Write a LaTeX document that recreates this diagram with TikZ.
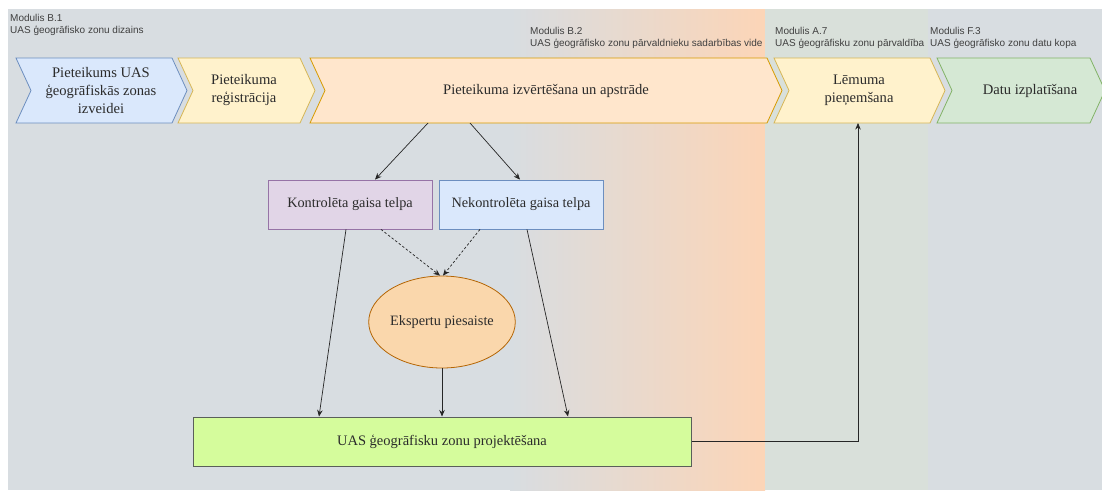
\documentclass[tikz,border=0pt]{standalone}
\usepackage{fontspec}
\setmainfont{Liberation Serif}
\newfontfamily\labfont{Liberation Sans}
\usetikzlibrary{arrows.meta,shapes.geometric,calc}
\definecolor{bggray}{HTML}{D8DDE1}
\definecolor{bggreen}{HTML}{D9E0DA}
\definecolor{peach}{HTML}{FCD5B7}
\definecolor{blueF}{HTML}{DAE8FC}\definecolor{blueD}{HTML}{6C8EBF}
\definecolor{yelF}{HTML}{FFF2CC}\definecolor{yelD}{HTML}{D6B656}
\definecolor{orF}{HTML}{FFE6CC}\definecolor{orD}{HTML}{D79B00}
\definecolor{grF}{HTML}{D5E8D4}\definecolor{grD}{HTML}{82B366}
\definecolor{purF}{HTML}{E1D5E7}\definecolor{purD}{HTML}{9673A6}
\definecolor{ellF}{HTML}{FAD7AC}\definecolor{ellD}{HTML}{B46504}
\definecolor{limeF}{HTML}{D5FC9C}\definecolor{limeD}{HTML}{5A5F5A}
\definecolor{txt}{HTML}{2B2B2B}
\tikzset{
  lanelabel/.style={anchor=north west,align=left,inner sep=0pt,font=\labfont\fontsize{10}{12.5}\selectfont,text=txt!90},
  chevtext/.style={align=center,inner sep=0pt,font=\fontsize{14.6}{18}\selectfont,text=txt},
  boxnode/.style={draw,line width=0.8pt,minimum width=164pt,minimum height=49pt,inner sep=0pt,font=\fontsize{14.3}{17}\selectfont,text=txt},
  conn/.style={line width=0.7pt,draw=black!85,-{Stealth[length=6.5pt,width=5.5pt]}},
  dconn/.style={conn,dashed,dash pattern=on 2.5pt off 2pt},
}
\newcommand{\chev}[4]{% L, R, fill, draw
  \filldraw[fill=#3,draw=#4,line width=0.8pt] (#1,58) -- (#2,58) -- ({#2+15},90.5) -- (#2,123) -- (#1,123) -- ({#1+15},90.5) -- cycle;}
\begin{document}
\begin{tikzpicture}[x=1pt,y=-1pt]
\useasboundingbox (0,0) rectangle (1102,491);
% lanes
\fill[bggray] (8,9) rectangle (1102,490);
\begin{scope}
\clip (510,9) rectangle (765,490);
\shade[left color=bggray,right color=peach,shading angle=90] (510,9) rectangle (765,490);
\end{scope}
\fill[bggreen] (765,9) rectangle (928,490);
% lane labels
\node[lanelabel] (mB1) at (10,14) {Modulis B.1\\UAS ģeogrāfisko zonu dizains};
\node[lanelabel] (mB2) at (530,27) {Modulis B.2\\UAS ģeogrāfisko zonu pārvaldnieku sadarbības vide};
\node[lanelabel] (mA7) at (775,27) {Modulis A.7\\UAS ģeogrāfisku zonu pārvaldība};
\node[lanelabel] (mF3) at (930,27) {Modulis F.3\\UAS ģeogrāfisko zonu datu kopa};
% chevrons
\chev{16}{172}{blueF}{blueD}
\chev{178}{300}{yelF}{yelD}
\chev{310}{767}{orF}{orD}
\chev{774}{930}{yelF}{yelD}
\chev{937}{1090}{grF}{grD}
\node[chevtext] (p1) at (101,90.5) {Pieteikums UAS\\ģeogrāfiskās zonas\\izveidei};
\node[chevtext] (p2) at (244,90.5) {Pieteikuma\\reģistrācija};
\node[chevtext] (p3) at (546,90.5) {Pieteikuma izvērtēšana un apstrāde};
\node[chevtext] (p4) at (859,90.5) {Lēmuma\\pieņemšana};
\node[chevtext] (p5) at (1030,90.5) {Datu izplatīšana};
\coordinate (p3a) at (428,123);
\coordinate (p3b) at (470,123);
\coordinate (p4b) at (858,123);
% boxes
\node[boxnode,fill=purF,draw=purD] (K) at (350,204.5) {Kontrolēta gaisa telpa};
\node[boxnode,fill=blueF,draw=blueD] (N) at (521,204.5) {Nekontrolēta gaisa telpa};
\node[ellipse,draw=ellD,fill=ellF,line width=0.8pt,minimum width=118pt,minimum height=92pt,inner sep=0pt,font=\fontsize{14.3}{17}\selectfont,text=txt] (E) at (442,322) {Ekspertu piesaiste};
\node[draw=limeD,fill=limeF,line width=1pt,minimum width=498pt,minimum height=49pt,inner sep=0pt,font=\fontsize{14.5}{17}\selectfont,text=txt] (G) at (442,441.5) {UAS ģeogrāfisku zonu projektēšana};
% connectors
\draw[conn] (p3a) -- ([xshift=25pt]K.north);
\draw[conn] (p3b) -- ([xshift=-1pt]N.north);
\draw[dconn] ([xshift=31pt]K.south) -- ([xshift=-2pt]E.north);
\draw[dconn] ([xshift=-41pt]N.south) -- ([xshift=1pt]E.north);
\draw[conn] ([xshift=-4pt]K.south) -- ([xshift=-123pt]G.north);
\draw[conn] ([xshift=6pt]N.south) -- ([xshift=126pt]G.north);
\draw[conn] (E.south) -- (G.north);
\draw[conn] (G.east) -| (p4b);
\end{tikzpicture}
\end{document}
